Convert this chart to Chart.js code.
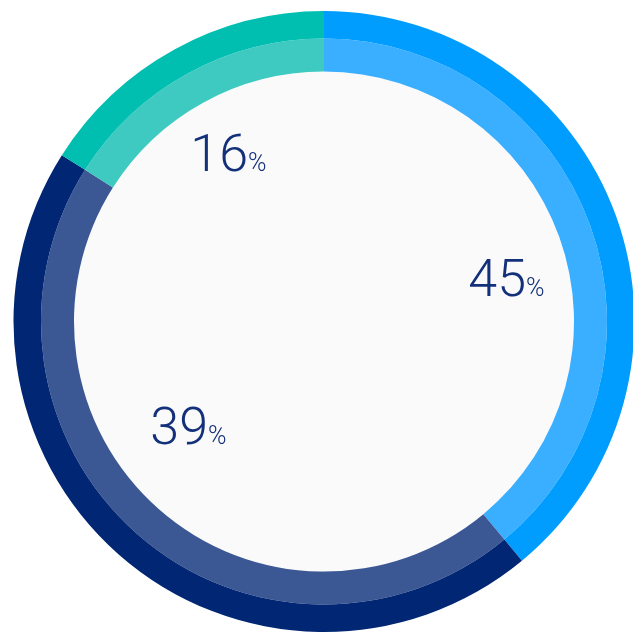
<!DOCTYPE html>
<html>
<head>
<meta charset="utf-8">
<script src="https://cdn.jsdelivr.net/npm/chart.js@4.4.1/dist/chart.umd.min.js"></script>
<style>
  html, body { margin: 0; padding: 0; background: #ffffff; overflow: hidden; width: 633px; height: 633px; }
  #wrap { position: absolute; left: 11px; top: 11px; width: 626px; height: 621px; }
</style>
</head>
<body>
<div id="wrap"><canvas id="c"></canvas></div>
<script>
// ---- data ----
const categories = ['Blue', 'Navy', 'Teal'];
const arcValues = [39, 45, 16];          // arc sizes as drawn
const percentLabels = ['45', '39', '16']; // label texts as shown
const outerColors = ['#009dff', '#002674', '#00bfb1'];
const innerColors = ['#3aaeff', '#3b5894', '#3ecac0'];

// label placement relative to chart centre (digits right edge, baseline)
const labelOffsets = [[202, -25.2], [-116, 122], [-76, -150.8]];

const centerFill = {
  id: 'centerFill',
  beforeDatasetsDraw(chart) {
    const arc = chart.getDatasetMeta(1).data[0];
    if (!arc) return;
    const ctx = chart.ctx;
    ctx.save();
    ctx.beginPath();
    ctx.arc(arc.x, arc.y, arc.innerRadius, 0, Math.PI * 2);
    ctx.fillStyle = '#fafafa';
    ctx.fill();
    ctx.restore();
  }
};

const pctLabels = {
  id: 'pctLabels',
  afterDatasetsDraw(chart) {
    const arc = chart.getDatasetMeta(0).data[0];
    if (!arc) return;
    const ctx = chart.ctx;
    ctx.save();
    ctx.fillStyle = '#13307a';
    ctx.textBaseline = 'alphabetic';
    percentLabels.forEach((t, i) => {
      const x = arc.x + labelOffsets[i][0];
      const y = arc.y + labelOffsets[i][1];
      ctx.font = '300 52px Roboto';
      ctx.textAlign = 'right';
      ctx.fillText(t, x, y);
      ctx.font = '300 25px Roboto';
      ctx.textAlign = 'left';
      ctx.fillText('%', x, y);
    });
    ctx.restore();
  }
};

function draw() {
  new Chart(document.getElementById('c'), {
    type: 'doughnut',
    data: {
      labels: categories,
      datasets: [
        { data: arcValues, backgroundColor: outerColors, borderWidth: 0, weight: 27.5 },
        { data: arcValues, backgroundColor: innerColors, borderWidth: 0, weight: 33 }
      ]
    },
    options: {
      responsive: true,
      maintainAspectRatio: false,
      animation: false,
      cutout: 250,
      layout: { padding: 0 },
      plugins: { legend: { display: false }, tooltip: { enabled: false } }
    },
    plugins: [centerFill, pctLabels]
  });
}
Promise.all([
  document.fonts.load('300 52px Roboto'),
  document.fonts.load('300 25px Roboto')
]).then(draw, draw);
</script>
</body>
</html>
